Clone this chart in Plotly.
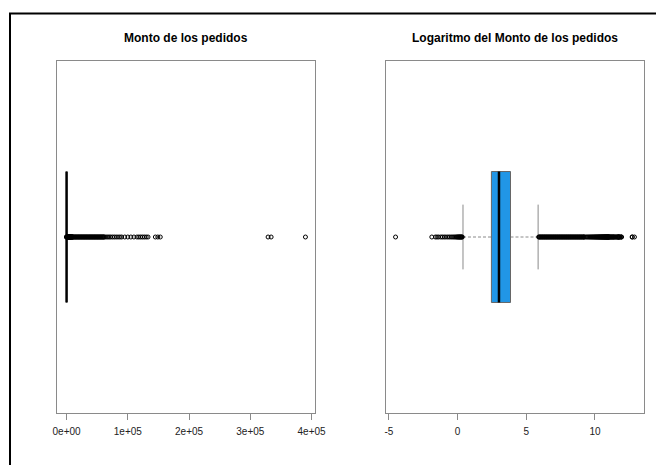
import numpy as np
import plotly.graph_objects as go

# Cuartiles del monto de los pedidos (la escala logarítmica usa su log)
q1_monto = 11.7
mediana_monto = 20.3
q3_monto = 47.0

# Extremos de los bigotes en cada escala
bigotes_monto = [0.011, 100.0]
bigotes_log = [0.39, 5.86]

# Valores atípicos: colas en log y montos grandes en escala original
log_atipicos_bajos = [-4.52, -1.88, -1.62, -1.50, -1.38, -1.22, -1.10, -0.97, -0.85,
                      -0.72, -0.60, -0.48, -0.37, -0.27, -0.18, -0.10, -0.04, 0.01,
                      0.06, 0.10, 0.14, 0.18, 0.22, 0.26, 0.30, 0.34]
log_atipicos_altos = [5.90, 5.95, 6.00, 6.05, 6.10, 6.15, 6.20, 6.25, 6.30, 6.35,
                      6.40, 6.45, 6.50, 6.55, 6.60, 6.65, 6.70, 6.75, 6.80, 6.85,
                      6.90, 6.95, 7.00, 7.05, 7.10, 7.15, 7.20, 7.25, 7.30, 7.35,
                      7.40, 7.45, 7.50, 7.55, 7.60, 7.65, 7.70, 7.75, 7.80, 7.85,
                      7.90, 7.95, 8.00, 8.05, 8.10, 8.15, 8.20, 8.25, 8.30, 8.35,
                      8.40, 8.45, 8.50, 8.55, 8.60, 8.65, 8.70, 8.75, 8.80, 8.85,
                      8.90, 8.95, 9.00, 9.05, 9.10, 9.15, 9.20]
montos_atipicos_altos = [10000, 11000, 12000, 13000, 14000, 15000, 16000, 17000,
                         18000, 19000, 20000, 21000, 22000, 23000, 24000, 25000,
                         26000, 27000, 28000, 29000, 30000, 31000, 32000, 33000,
                         34000, 35000, 36000, 37000, 38000, 39000, 40000, 41000,
                         42000, 43000, 44000, 45000, 46000, 47000, 48000, 49000,
                         50000, 51000, 52000, 53000, 54000, 55000, 56000, 57000,
                         58000, 59000, 60000, 61000, 62000, 64500, 67000, 69500,
                         72000, 75000, 78000, 81000, 84000, 87000, 90000, 95000,
                         100000, 105000, 110000, 115000, 118000, 121000, 124000,
                         127000, 130000, 133000, 145000, 149000, 153000, 329000,
                         334000, 390000]

titulos = ["Monto de los pedidos", "Logaritmo del Monto de los pedidos"]
ticks_monto = [0, 100000, 200000, 300000, 400000]
etiquetas_monto = ["0e+00", "1e+05", "2e+05", "3e+05", "4e+05"]
ticks_log = [-5, 0, 5, 10]
etiquetas_log = ["-5", "0", "5", "10"]

W, H = 656, 465
FUENTE = "Liberation Sans, Arial, Helvetica, sans-serif"
GRIS = "#8a8a8a"
AZUL = "#2196E6"

atip_monto = np.concatenate([np.exp(log_atipicos_altos), montos_atipicos_altos])
atip_log = np.concatenate([log_atipicos_bajos, log_atipicos_altos,
                           np.log(montos_atipicos_altos)])

paneles = [
    dict(q=(q1_monto, mediana_monto, q3_monto), bigotes=bigotes_monto,
         atipicos=atip_monto, relleno="white", ticks=ticks_monto,
         etiquetas=etiquetas_monto),
    dict(q=tuple(np.log([q1_monto, mediana_monto, q3_monto])), bigotes=bigotes_log,
         atipicos=atip_log, relleno=AZUL, ticks=ticks_log, etiquetas=etiquetas_log),
]

# Geometría de los paneles en píxeles
x_pan = [(57, 315), (386, 644)]
y_top, y_bot = 61, 413
h_caja = 0.186   # media altura de la caja (eje y de 0.5 a 1.5)
h_tope = 0.092   # media altura de los topes de los bigotes

fig = go.Figure()
layout = dict(template="none", width=W, height=H,
              margin=dict(l=0, r=0, t=0, b=0, pad=0, autoexpand=False),
              paper_bgcolor="white", plot_bgcolor="white", showlegend=False,
              font=dict(family=FUENTE, color="#111"))

for i, p in enumerate(paneles):
    sx = "" if i == 0 else str(i + 1)
    xa, ya = "x" + sx, "y" + sx
    q1, med, q3 = p["q"]
    lo, hi = p["bigotes"]
    out = np.asarray(p["atipicos"])

    # bigotes discontinuos
    fig.add_trace(go.Scatter(x=[lo, q1, None, q3, hi], y=[1, 1, None, 1, 1],
                             mode="lines", xaxis=xa, yaxis=ya,
                             line=dict(color=GRIS, width=1, dash="3px,2px"),
                             hoverinfo="skip"))
    # topes
    fig.add_trace(go.Scatter(x=[lo, lo, None, hi, hi],
                             y=[1 - h_tope, 1 + h_tope, None, 1 - h_tope, 1 + h_tope],
                             mode="lines", xaxis=xa, yaxis=ya,
                             line=dict(color=GRIS, width=1), hoverinfo="skip"))
    # caja
    fig.add_trace(go.Scatter(x=[q1, q3, q3, q1, q1],
                             y=[1 - h_caja, 1 - h_caja, 1 + h_caja, 1 + h_caja, 1 - h_caja],
                             mode="lines", fill="toself", fillcolor=p["relleno"],
                             xaxis=xa, yaxis=ya, line=dict(color="#666", width=1),
                             hoverinfo="skip"))
    # mediana
    fig.add_trace(go.Scatter(x=[med, med], y=[1 - h_caja, 1 + h_caja], mode="lines",
                             xaxis=xa, yaxis=ya, line=dict(color="black", width=2.5),
                             hoverinfo="skip"))
    # atípicos
    fig.add_trace(go.Scatter(x=out, y=np.ones(len(out)), mode="markers",
                             xaxis=xa, yaxis=ya,
                             marker=dict(symbol="circle-open", size=4,
                                         color="black", line=dict(width=1)),
                             hoverinfo="skip"))

    # rango al estilo R: extremos de los datos ampliados un 4 %
    dmin = min(lo, out.min())
    dmax = max(hi, out.max())
    ext = 0.04 * (dmax - dmin)
    x0, x1 = x_pan[i]
    layout["xaxis" + sx] = dict(
        domain=[x0 / W, x1 / W], anchor=ya, range=[dmin - ext, dmax + ext],
        automargin=False,
        showline=True, mirror=True, linecolor=GRIS, linewidth=1,
        ticks="outside", ticklen=6, tickwidth=1, tickcolor=GRIS,
        tickvals=p["ticks"], ticktext=p["etiquetas"], ticklabelstandoff=3,
        tickfont=dict(size=10, color="#222", family=FUENTE),
        showgrid=False, zeroline=False)
    layout["yaxis" + sx] = dict(
        domain=[1 - y_bot / H, 1 - y_top / H], anchor=xa, range=[0.5, 1.5],
        automargin=False,
        showline=True, mirror=True, linecolor=GRIS, linewidth=1,
        showticklabels=False, ticks="", showgrid=False, zeroline=False)

anotaciones = []
for i, t in enumerate(titulos):
    x0, x1 = x_pan[i]
    anotaciones.append(dict(text="<b>" + t + "</b>", x=(x0 + x1) / 2 / W,
                            y=1 - 38 / H, xref="paper", yref="paper",
                            xanchor="center", yanchor="middle", showarrow=False,
                            font=dict(size=12, color="black", family=FUENTE)))
layout["annotations"] = anotaciones

# marco exterior
layout["shapes"] = [dict(type="rect", xref="paper", yref="paper",
                         x0=10 / W, y0=1 - 13.5 / H, x1=1.05, y1=-0.05,
                         line=dict(color="black", width=2))]

fig.update_layout(**layout)
fig.write_html("out.html")
